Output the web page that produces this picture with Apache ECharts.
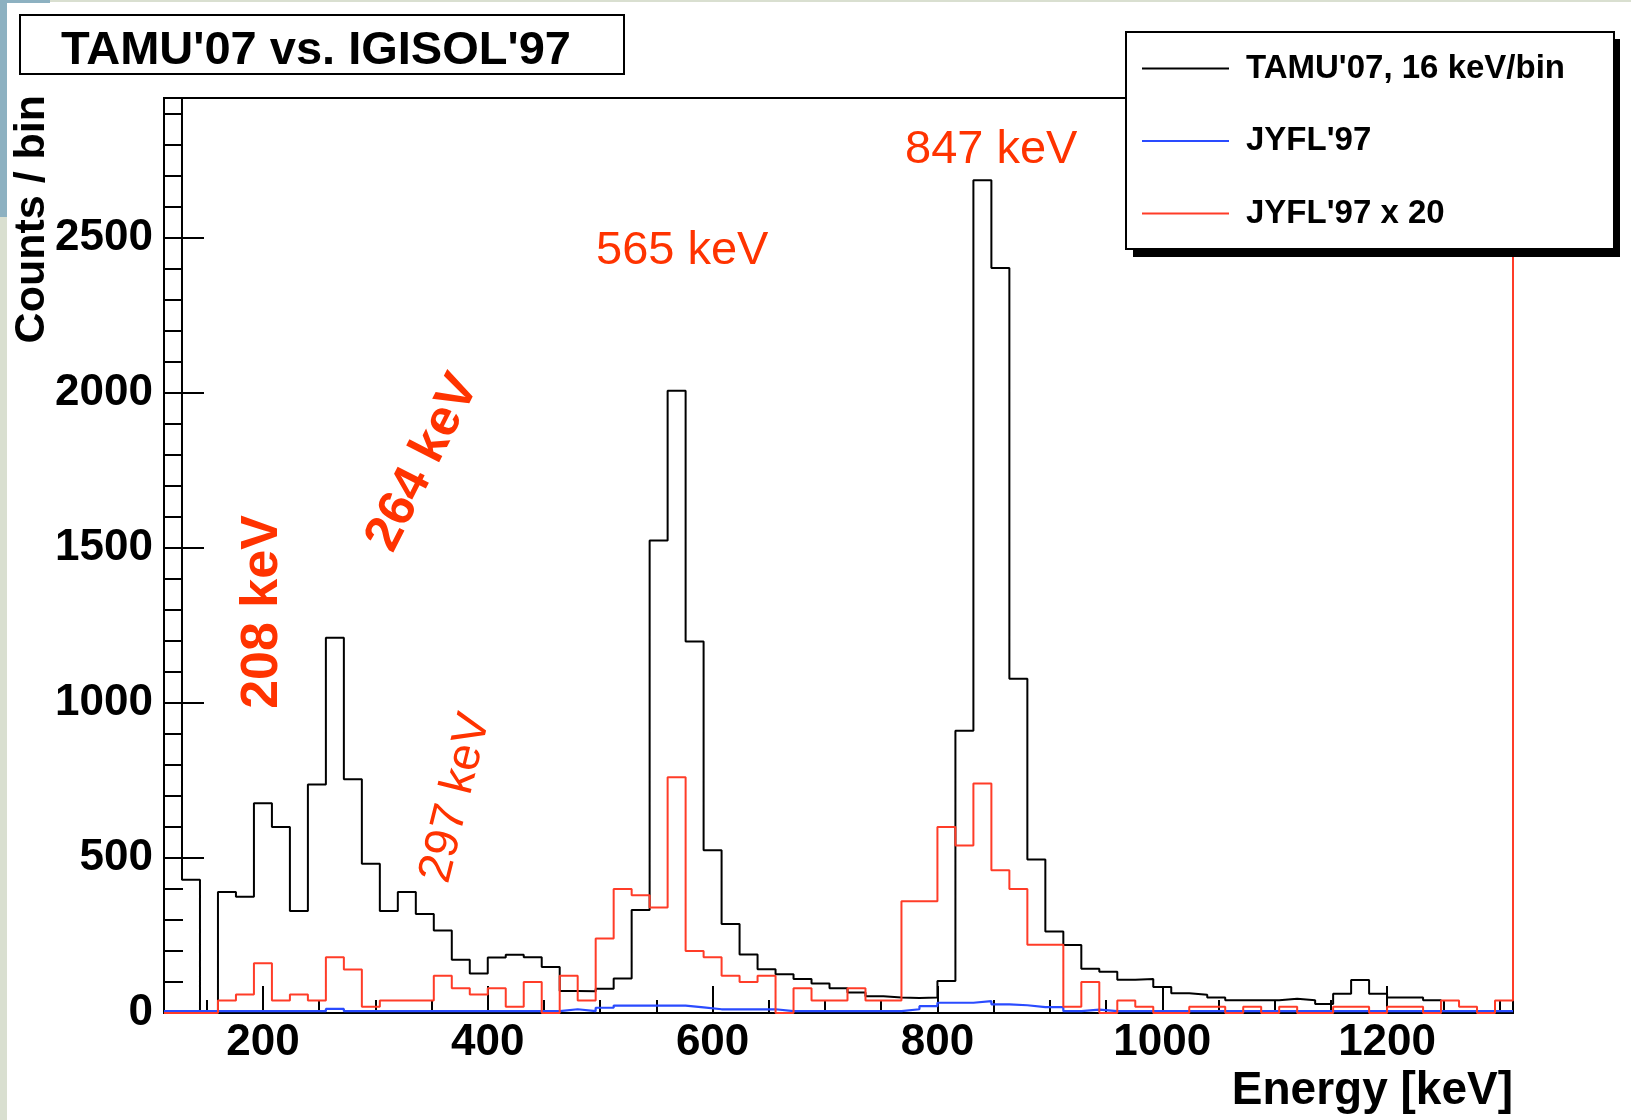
<!DOCTYPE html>
<html>
<head>
<meta charset="utf-8">
<title>TAMU'07 vs. IGISOL'97</title>
<script src="https://cdn.jsdelivr.net/npm/echarts@6/dist/echarts.min.js"></script>
<style>
  html, body { margin: 0; padding: 0; background: #ffffff; }
  #chart { width: 1631px; height: 1120px; }
</style>
</head>
<body>
<div id="chart"></div>
<script>
// Bin edges of the 16 keV/bin energy spectra (keV)
const binEdges = [
  112, 128, 144, 160, 176, 192, 208, 224, 240, 256, 272, 288, 304, 320, 336, 352,
  368, 384, 400, 416, 432, 448, 464, 480, 496, 512, 528, 544, 560, 576, 592, 608,
  624, 640, 656, 672, 688, 704, 720, 736, 752, 768, 784, 800, 816, 832, 848, 864,
  880, 896, 912, 928, 944, 960, 976, 992, 1008, 1024, 1040, 1056, 1072, 1088, 1104,
  1120, 1136, 1152, 1168, 1184, 1200, 1216, 1232, 1248, 1264, 1280, 1296, 1312
];

// TAMU'07 counts per bin
const tamu07 = [
  3400, 430, 0, 390, 375, 676, 600, 329, 737, 1210, 754, 481, 329, 390, 319, 266,
  172, 127, 179, 188, 180, 148, 71, 70, 78, 111, 332, 1523, 2006, 1198, 525, 287,
  189, 141, 125, 110, 95, 80, 66, 54, 50, 48, 50, 103, 910, 2685, 2402, 1078,
  495, 263, 219, 143, 133, 107, 110, 84, 64, 59, 50, 41, 41, 41, 46,
  41, 29, 62, 106, 62, 50, 50, 41, 0, 0, 0, 0
];

// JYFL'97 counts per bin
const jyfl97 = [
  6, 6, 6, 6, 6, 6, 6, 6, 6, 13, 6, 6, 6, 6, 6, 6,
  6, 6, 6, 6, 6, 6, 12, 6, 17, 24, 24, 24, 24, 18, 12, 12,
  12, 12, 6, 6, 6, 6, 6, 6, 6, 12, 22, 33, 33, 38, 28, 25,
  19, 19, 6, 11, 6, 6, 6, 6, 6, 6, 6, 6, 6, 6, 6,
  6, 6, 6, 6, 6, 6, 6, 6, 6, 6, 6, 6
];

// JYFL'97 scaled by 20
const jyfl97x20 = [
  0, 0, 0, 40, 60, 160, 40, 60, 40, 180, 140, 20, 40, 40, 40, 120,
  80, 60, 80, 20, 100, 0, 120, 40, 240, 400, 380, 340, 760, 200, 180, 120,
  100, 120, 0, 80, 40, 40, 80, 40, 40, 360, 360, 600, 540, 740, 460, 400,
  220, 220, 20, 100, 0, 40, 20, 0, 0, 20, 20, 0, 20, 0, 20,
  0, 0, 20, 20, 0, 20, 20, 0, 40, 20, 0, 40
];
// overflow content of the scaled JYFL'97 spectrum (beyond 1312 keV)
const jyfl97x20Overflow = 3400;

// Axis ticks
const xMajorTicks = [200, 400, 600, 800, 1000, 1200];
const xMinorTicks = [150, 200, 250, 300, 350, 400, 450, 500, 550, 600, 650, 700, 750,
  800, 850, 900, 950, 1000, 1050, 1100, 1150, 1200, 1250, 1300];
const yMajorTicks = [0, 500, 1000, 1500, 2000, 2500];
const yMinorTicks = [100, 200, 300, 400, 500, 600, 700, 800, 900, 1000, 1100, 1200, 1300,
  1400, 1500, 1600, 1700, 1800, 1900, 2000, 2100, 2200, 2300, 2400, 2500, 2600, 2700,
  2800, 2900];

// Text
const chartTitle = "TAMU'07 vs. IGISOL'97";
const seriesNames = ["TAMU'07, 16 keV/bin", "JYFL'97", "JYFL'97 x 20"];
const xTitle = 'Energy [keV]';
const yTitle = 'Counts / bin';
const peakLabels = ['208 keV', '264 keV', '297 keV', '565 keV', '847 keV'];

// Histogram outline: each bin starts at its lower edge, the last point closes the last bin.
function histogramPoints(values, tail) {
  const pts = values.map((v, i) => [binEdges[i], v]);
  pts.push([binEdges[values.length], tail === undefined ? values[values.length - 1] : tail]);
  return pts;
}

const FONT = '"Liberation Sans", Arial, Helvetica, sans-serif';
const LABEL_RED = '#ff3300';
const xMin = binEdges[0];
const xMax = binEdges[binEdges.length - 1];
const yMax = 2950;
const plainNumber = (v) => String(v);

const chart = echarts.init(document.getElementById('chart'), null, { renderer: 'canvas' });

const hiddenAxisBits = {
  axisLine: { show: false },
  splitLine: { show: false }
};

const option = {
  animation: false,
  backgroundColor: '#ffffff',
  title: {
    text: chartTitle,
    left: 20,
    top: 18,
    padding: [13, 53, 0, 41],
    backgroundColor: '#ffffff',
    borderColor: '#000000',
    borderWidth: 2,
    textStyle: { fontFamily: FONT, fontWeight: 'bold', fontSize: 47, lineHeight: 40, color: '#000' }
  },
  legend: {
    orient: 'vertical',
    left: 1126,
    top: 32,
    padding: [20, 49, 19, 16],
    itemWidth: 87,
    itemHeight: 2,
    itemGap: 39.5,
    icon: 'rect',
    backgroundColor: '#ffffff',
    borderColor: '#000000',
    borderWidth: 2,
    borderRadius: 0,
    z: 10,
    data: seriesNames,
    textStyle: { fontFamily: FONT, fontWeight: 'bold', fontSize: 33, lineHeight: 33, color: '#000',
      padding: [0, 0, 0, 12] }
  },
  grid: {
    left: 164,
    top: 98,
    right: 118,
    bottom: 107,
    show: true,
    borderColor: '#000000',
    borderWidth: 2,
    backgroundColor: '#ffffff'
  },
  xAxis: [
    {
      type: 'value',
      position: 'bottom',
      min: xMin,
      max: xMax,
      ...hiddenAxisBits,
      axisTick: { show: true, inside: true, length: 27, customValues: xMajorTicks,
        lineStyle: { color: '#000', width: 2 } },
      axisLabel: { show: true, customValues: xMajorTicks, margin: 8, formatter: plainNumber,
        fontFamily: FONT, fontWeight: 'bold', fontSize: 44, color: '#000' }
    },
    {
      type: 'value',
      position: 'bottom',
      min: xMin,
      max: xMax,
      ...hiddenAxisBits,
      axisTick: { show: true, inside: true, length: 13, customValues: xMinorTicks,
        lineStyle: { color: '#000', width: 2 } },
      axisLabel: { show: false }
    }
  ],
  yAxis: [
    {
      type: 'value',
      position: 'left',
      min: 0,
      max: yMax,
      ...hiddenAxisBits,
      axisTick: { show: true, inside: true, length: 40, customValues: yMajorTicks,
        lineStyle: { color: '#000', width: 2 } },
      axisLabel: { show: true, customValues: yMajorTicks, margin: 11, formatter: plainNumber,
        fontFamily: FONT, fontWeight: 'bold', fontSize: 44, color: '#000' }
    },
    {
      type: 'value',
      position: 'left',
      min: 0,
      max: yMax,
      ...hiddenAxisBits,
      axisTick: { show: true, inside: true, length: 19, customValues: yMinorTicks,
        lineStyle: { color: '#000', width: 2 } },
      axisLabel: { show: false }
    }
  ],
  series: [
    {
      name: seriesNames[0],
      type: 'line',
      step: 'end',
      xAxisIndex: 0,
      yAxisIndex: 0,
      symbol: 'none',
      clip: true,
      z: 3,
      data: histogramPoints(tamu07),
      lineStyle: { color: '#000000', width: 2 },
      itemStyle: { color: '#000000' }
    },
    {
      name: seriesNames[1],
      type: 'line',
      step: 'end',
      xAxisIndex: 0,
      yAxisIndex: 0,
      symbol: 'none',
      clip: true,
      z: 4,
      data: histogramPoints(jyfl97),
      lineStyle: { color: '#2a4bff', width: 2.2 },
      itemStyle: { color: '#2a4bff' }
    },
    {
      name: seriesNames[2],
      type: 'line',
      step: 'end',
      xAxisIndex: 0,
      yAxisIndex: 0,
      symbol: 'none',
      clip: true,
      z: 5,
      data: histogramPoints(jyfl97x20, jyfl97x20Overflow),
      lineStyle: { color: '#ff3c28', width: 2 },
      itemStyle: { color: '#ff3c28' }
    }
  ],
  graphic: [
    // slide background showing along the left and top edges
    { type: 'rect', silent: true, z: 0, shape: { x: 0, y: 0, width: 1631, height: 2 }, style: { fill: '#d9dfd0' } },
    { type: 'rect', silent: true, z: 0, shape: { x: 0, y: 0, width: 7, height: 1120 }, style: { fill: '#d9dfd0' } },
    { type: 'rect', silent: true, z: 0, shape: { x: 0, y: 0, width: 7, height: 217 }, style: { fill: '#8db1c1' } },
    { type: 'rect', silent: true, z: 0, shape: { x: 0, y: 0, width: 50, height: 3 }, style: { fill: '#8db1c1' } },
    // drop shadow of the legend box
    { type: 'rect', silent: true, z: 9, shape: { x: 1133, y: 39, width: 487, height: 218 }, style: { fill: '#000' } },
    // axis titles
    { type: 'text', silent: true, z: 6, x: 1513, y: 1091,
      style: { text: xTitle, align: 'right', verticalAlign: 'middle', fill: '#000',
        font: 'bold 46px ' + FONT } },
    { type: 'text', silent: true, z: 6, x: 32, y: 95, rotation: Math.PI / 2,
      style: { text: yTitle, align: 'right', verticalAlign: 'middle', fill: '#000',
        font: 'bold 43px ' + FONT } },
    // peak annotations
    { type: 'text', silent: true, z: 6, x: 263, y: 612, rotation: Math.PI / 2,
      style: { text: peakLabels[0], align: 'center', verticalAlign: 'middle', fill: LABEL_RED,
        font: 'bold 52px ' + FONT } },
    { type: 'text', silent: true, z: 6, x: 423, y: 463, rotation: 63 * Math.PI / 180,
      style: { text: peakLabels[1], align: 'center', verticalAlign: 'middle', fill: LABEL_RED,
        font: 'bold 51px ' + FONT } },
    { type: 'text', silent: true, z: 6, x: 456, y: 798, rotation: 76 * Math.PI / 180,
      style: { text: peakLabels[2], align: 'center', verticalAlign: 'middle', fill: LABEL_RED,
        font: '47px ' + FONT } },
    { type: 'text', silent: true, z: 6, x: 596, y: 251,
      style: { text: peakLabels[3], align: 'left', verticalAlign: 'middle', fill: LABEL_RED,
        font: '47px ' + FONT } },
    { type: 'text', silent: true, z: 6, x: 905, y: 150,
      style: { text: peakLabels[4], align: 'left', verticalAlign: 'middle', fill: LABEL_RED,
        font: '47px ' + FONT } }
  ]
};

chart.setOption(option);
</script>
</body>
</html>
